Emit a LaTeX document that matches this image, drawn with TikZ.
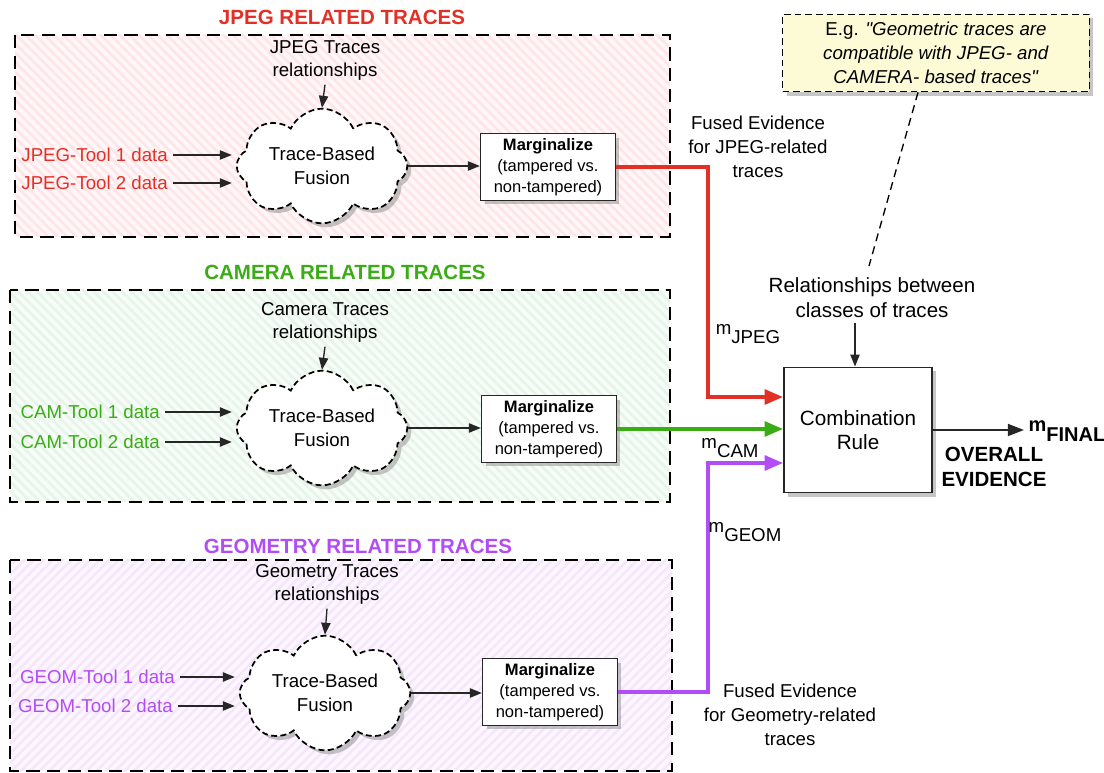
\documentclass[tikz,border=0pt]{standalone}
\usepackage{fontspec}
\setmainfont{Liberation Sans}
\usetikzlibrary{shapes.symbols,shadows,arrows.meta,patterns.meta,calc}
\definecolor{cRed}{RGB}{226,48,38}
\definecolor{cGreen}{RGB}{58,172,20}
\definecolor{cPurple}{RGB}{178,76,245}
\definecolor{noteY}{RGB}{253,251,214}
\definecolor{hRed}{RGB}{255,222,226}
\definecolor{hGreen}{RGB}{222,243,226}
\definecolor{hPurple}{RGB}{244,224,252}
\newcommand\msub[1]{\raisebox{0.5em}{m}#1}
\begin{document}
\begin{tikzpicture}[x=0.75pt,y=-0.75pt,
  font=\fontsize{13.5}{17}\selectfont,
  groupbox/.style={draw=black, line width=1.1pt, dash pattern=on 10pt off 5.5pt},
  title/.style={font=\fontsize{15.4}{18}\selectfont\bfseries},
  rel/.style={align=center, font=\fontsize{14}{17.2}\selectfont},
  tool/.style={anchor=east, font=\fontsize{14}{17}\selectfont, inner sep=0pt},
  fusion/.style={cloud, cloud puffs=8, cloud puff arc=130, cloud ignores aspect,
    draw=black, line width=1.3pt,
    dash pattern=on 4.5pt off 2.5pt, fill=white, minimum width=128pt, minimum height=86pt,
    align=center, inner sep=0pt, font=\fontsize{14}{18}\selectfont,
    drop shadow={opacity=0.45, shadow xshift=3pt, shadow yshift=-3pt}},
  marg/.style={draw=black!85, line width=1.2pt, fill=white, align=center,
    minimum width=101pt, minimum height=50pt, inner sep=0pt,
    font=\fontsize{12.4}{15.75}\selectfont,
    drop shadow={opacity=0.45, shadow xshift=3pt, shadow yshift=-3pt}},
  arr/.style={-{Triangle[length=9pt,width=7pt]}, line width=1pt, draw=black!85},
  carr/.style={-{Triangle[length=14pt,width=11pt]}, line width=3pt},
  lbl/.style={align=center, font=\fontsize{14}{18}\selectfont}
]
\useasboundingbox (0,0) rectangle (1104,773);

% ---------- group backgrounds ----------
\fill[hRed!25] (15,35) rectangle (670,237);
\fill[pattern={Lines[angle=-45,distance=5pt,line width=2pt]}, pattern color=hRed!80] (15,35) rectangle (670,237);
\draw[groupbox] (15,35) rectangle (670,237);

\fill[hGreen!25] (10,290) rectangle (670,502);
\fill[pattern={Lines[angle=-45,distance=5pt,line width=2pt]}, pattern color=hGreen!80] (10,290) rectangle (670,502);
\draw[groupbox] (10,290) rectangle (670,502);

\fill[hPurple!25] (10,560) rectangle (672,771);
\fill[pattern={Lines[angle=45,distance=5pt,line width=2pt]}, pattern color=hPurple!80] (10,560) rectangle (672,771);
\draw[groupbox] (10,560) rectangle (672,771);

% ---------- titles ----------
\node[title, text=cRed] (tJ) at (342,17) {JPEG RELATED TRACES};
\node[title, text=cGreen] (tC) at (345,272) {CAMERA RELATED TRACES};
\node[title, text=cPurple] (tG) at (358,546) {GEOMETRY RELATED TRACES};

% ---------- JPEG group ----------
\node[rel] (relJ) at (325,60) {JPEG Traces\\relationships};
\node[fusion] (cloudJ) at (322,166) {Trace-Based\\Fusion};
\node[tool, text=cRed] (j1) at (168,155) {JPEG-Tool 1 data};
\node[tool, text=cRed] (j2) at (168,183) {JPEG-Tool 2 data};
\node[marg] (margJ) at (548,167) {\textbf{Marginalize}\\(tampered vs.\\non-tampered)};
\draw[arr] (relJ.south) -- (cloudJ.north);
\draw[arr, shorten <=4pt, shorten >=3pt] (j1.east) -- (j1.east -| cloudJ.west);
\draw[arr, shorten <=4pt, shorten >=3pt] (j2.east) -- (j2.east -| cloudJ.west);
\draw[arr] (cloudJ.east) -- (cloudJ.east -| margJ.west);

% ---------- CAMERA group ----------
\node[rel] (relC) at (325,322) {Camera Traces\\relationships};
\node[fusion] (cloudC) at (322,428) {Trace-Based\\Fusion};
\node[tool, text=cGreen] (c1) at (160,412) {CAM-Tool 1 data};
\node[tool, text=cGreen] (c2) at (160,442) {CAM-Tool 2 data};
\node[marg] (margC) at (549,429) {\textbf{Marginalize}\\(tampered vs.\\non-tampered)};
\draw[arr] (relC.south) -- (cloudC.north);
\draw[arr, shorten <=4pt, shorten >=3pt] (c1.east) -- (c1.east -| cloudC.west);
\draw[arr, shorten <=4pt, shorten >=3pt] (c2.east) -- (c2.east -| cloudC.west);
\draw[arr] (cloudC.east) -- (cloudC.east -| margC.west);

% ---------- GEOMETRY group ----------
\node[rel] (relG) at (327,584) {Geometry Traces\\relationships};
\node[fusion] (cloudG) at (325,693) {Trace-Based\\Fusion};
\node[tool, text=cPurple] (g1) at (175,677) {GEOM-Tool 1 data};
\node[tool, text=cPurple] (g2) at (173,706) {GEOM-Tool 2 data};
\node[marg] (margG) at (550,692) {\textbf{Marginalize}\\(tampered vs.\\non-tampered)};
\draw[arr] (relG.south) -- (cloudG.north);
\draw[arr, shorten <=4pt, shorten >=3pt] (g1.east) -- (g1.east -| cloudG.west);
\draw[arr, shorten <=4pt, shorten >=3pt] (g2.east) -- (g2.east -| cloudG.west);
\draw[arr] (cloudG.east) -- (cloudG.east -| margG.west);

% ---------- combination ----------
\node[draw=black!85, line width=1.2pt, fill=white, minimum width=111pt, minimum height=94pt,
  align=center, font=\fontsize{15.5}{18}\selectfont,
  drop shadow={opacity=0.45, shadow xshift=3pt, shadow yshift=-3pt}] (comb) at (858,430) {Combination\\Rule};
\node[align=center, font=\fontsize{15.4}{18.75}\selectfont] (relComb) at (872,298) {Relationships between\\classes of traces};
\draw[arr] (relComb.south -| 855,0) -- (comb.north -| 855,0);

\node[draw=black, line width=1.1pt, dash pattern=on 5pt off 3pt, fill=noteY,
  minimum width=230pt, minimum height=58pt, align=center, font=\fontsize{14}{18}\selectfont,
  drop shadow={opacity=0.45, shadow xshift=3pt, shadow yshift=-3pt}] (note) at (936,53)
  {E.g. \textit{\textquotedbl Geometric traces are}\\\textit{compatible with JPEG- and}\\\textit{CAMERA- based traces\textquotedbl}};
\coordinate (dl) at (869,266);
\draw[line width=1pt, dash pattern=on 6pt off 4pt] ($(note.south)+(-18,0)$) -- (dl);

% ---------- fused evidence connectors ----------
\coordinate (bendx) at (708,0);
\coordinate (inJ) at ($(comb.west)+(0,-33)$);
\coordinate (inG) at ($(comb.west)+(0,33)$);
\draw[carr, cRed] (margJ.east) -| (bendx |- inJ) -- (inJ);
\draw[carr, cGreen] (margC.east) -- (margC.east -| comb.west);
\draw[carr, cPurple] (margG.east) -| (bendx |- inG) -- (inG);

\node[lbl] (fusedJ) at (758,147) {Fused Evidence\\for JPEG-related\\traces};
\node[lbl] (fusedG) at (790,715) {Fused Evidence\\for Geometry-related\\traces};
\node[font=\fontsize{14}{17}\selectfont] (mJ) at (748,334) {\msub{JPEG}};
\node[font=\fontsize{14}{17}\selectfont] (mC) at (730,448) {\msub{CAM}};
\node[font=\fontsize{14}{17}\selectfont] (mG) at (745,532) {\msub{GEOM}};

% ---------- output ----------
\node[font=\fontsize{15}{18}\selectfont\bfseries] (mF) at (1067,431) {\msub{FINAL}};
\draw[arr, line width=1.2pt, -{Triangle[length=12pt,width=9pt]}] (comb.east) -- (comb.east -| mF.west);
\node[align=center, font=\fontsize{15.4}{18.75}\selectfont\bfseries] (overall) at (994,467) {OVERALL\\EVIDENCE};
\end{tikzpicture}
\end{document}
